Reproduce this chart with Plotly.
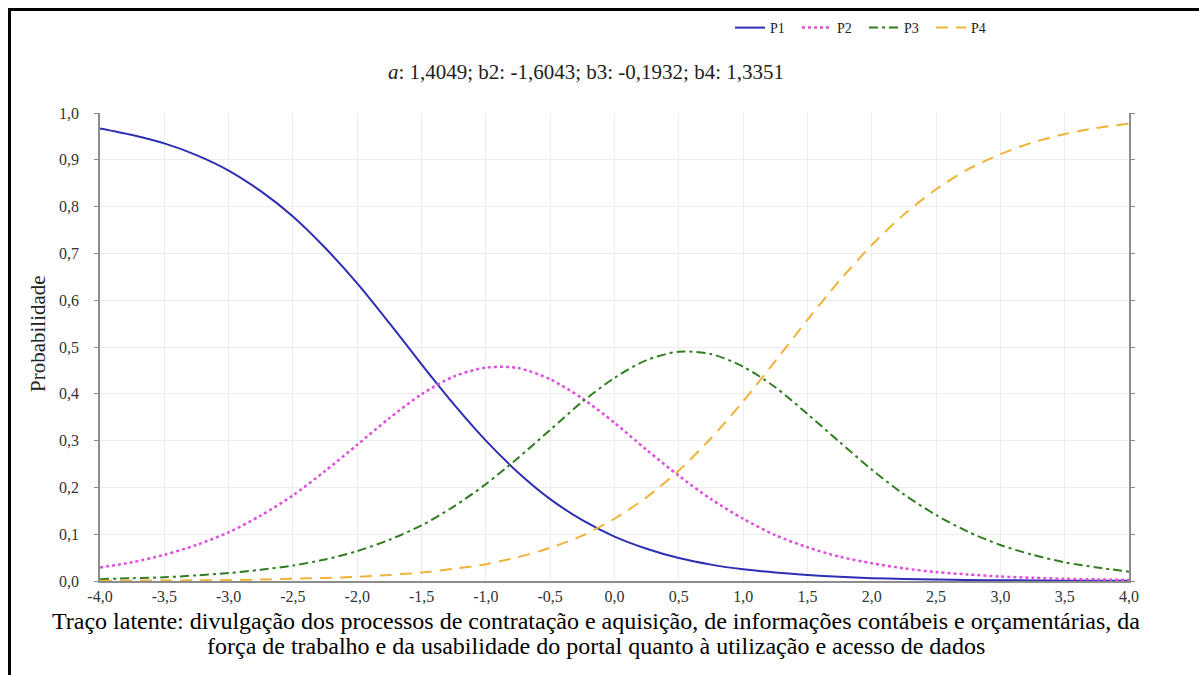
import plotly.graph_objects as go

# Traço latente (theta) grid
theta = [-4.0, -3.75, -3.5, -3.25, -3.0, -2.75, -2.5, -2.25, -2.0, -1.75, -1.5, -1.25,
         -1.0, -0.75, -0.5, -0.25, 0.0, 0.25, 0.5, 0.75, 1.0, 1.25, 1.5, 1.75,
         2.0, 2.25, 2.5, 2.75, 3.0, 3.25, 3.5, 3.75, 4.0]

# Category response probabilities
p1 = [0.967, 0.953, 0.935, 0.910, 0.877, 0.833, 0.779, 0.712, 0.636, 0.551, 0.463, 0.378,
      0.300, 0.232, 0.175, 0.130, 0.095, 0.069, 0.049, 0.035, 0.025, 0.018, 0.013, 0.009,
      0.006, 0.0045, 0.003, 0.002, 0.0016, 0.0011, 0.0008, 0.0005, 0.0004]
p2 = [0.029, 0.040, 0.056, 0.077, 0.104, 0.140, 0.183, 0.235, 0.291, 0.348, 0.399, 0.437,
      0.456, 0.455, 0.431, 0.390, 0.338, 0.280, 0.225, 0.175, 0.133, 0.098, 0.072, 0.052,
      0.038, 0.027, 0.019, 0.014, 0.0095, 0.0068, 0.0047, 0.0034, 0.0024]
p3 = [0.004, 0.006, 0.008, 0.012, 0.017, 0.024, 0.033, 0.046, 0.064, 0.088, 0.119, 0.159,
      0.207, 0.263, 0.323, 0.383, 0.434, 0.472, 0.490, 0.485, 0.458, 0.414, 0.357, 0.297,
      0.238, 0.185, 0.141, 0.105, 0.077, 0.056, 0.040, 0.029, 0.020]
p4 = [0.0006, 0.0008, 0.001, 0.0016, 0.002, 0.0032, 0.005, 0.0065, 0.009, 0.013, 0.018, 0.026,
      0.036, 0.051, 0.071, 0.097, 0.133, 0.179, 0.236, 0.305, 0.384, 0.470, 0.558, 0.642,
      0.718, 0.783, 0.837, 0.880, 0.912, 0.937, 0.955, 0.968, 0.977]

x_tickvals = [-4.0, -3.5, -3.0, -2.5, -2.0, -1.5, -1.0, -0.5, 0.0, 0.5, 1.0, 1.5, 2.0, 2.5, 3.0, 3.5, 4.0]
x_ticktext = ["-4,0", "-3,5", "-3,0", "-2,5", "-2,0", "-1,5", "-1,0", "-0,5", "0,0",
              "0,5", "1,0", "1,5", "2,0", "2,5", "3,0", "3,5", "4,0"]
y_tickvals = [0.0, 0.1, 0.2, 0.3, 0.4, 0.5, 0.6, 0.7, 0.8, 0.9, 1.0]
y_ticktext = ["0,0", "0,1", "0,2", "0,3", "0,4", "0,5", "0,6", "0,7", "0,8", "0,9", "1,0"]

x_title_lines = [
    "Traço latente: divulgação dos processos de contratação e aquisição, de informações contábeis e orçamentárias, da",
    "força de trabalho e da usabilidade do portal quanto à utilização e acesso de dados",
]

serif = "Liberation Serif"

fig = go.Figure()
styles = [
    ("P1", p1, "#2e2eb4", "solid", 2),
    ("P2", p2, "#de4fde", "3px,3px", 2.5),
    ("P3", p3, "#2f7d1f", "9px,4px,3px,4px", 2),
    ("P4", p4, "#efb33a", "12px,8px", 2),
]
for name, vals, color, dash, w in styles:
    fig.add_trace(go.Scatter(
        x=theta, y=vals, name=name, mode="lines",
        line=dict(color=color, dash=dash, width=w, shape="spline", smoothing=0.8),
    ))

# Page geometry helpers (pixel -> paper coordinates)
L, R, T, B = 100, 70, 113, 94
W, H = 1199, 675
pw, ph = W - L - R, H - T - B
def px(xp):
    return (xp - L) / pw
def py(yp):
    return (H - B - yp) / ph

# Outer frame (left and top edges)
fig.add_shape(type="path", xref="paper", yref="paper",
              path=f"M {px(9.5)},{py(676)} L {px(9.5)},{py(9.5)} L {px(1200)},{py(9.5)}",
              line=dict(color="black", width=3))

# Two-line x-axis caption
for line_text, ypix in zip(x_title_lines, [621, 646]):
    fig.add_annotation(
        xref="paper", yref="paper", x=px(596), y=py(ypix), xanchor="center", yanchor="middle",
        text=line_text, showarrow=False,
        font=dict(family=serif, size=24, color="black"),
    )

# Y-axis caption
fig.add_annotation(
    xref="paper", yref="paper", x=px(38), y=py(334), xanchor="center", yanchor="middle",
    text="Probabilidade", textangle=-90, showarrow=False,
    font=dict(family=serif, size=21, color="#222"),
)

fig.update_layout(
    width=W, height=H,
    margin=dict(l=L, r=R, t=T, b=B),
    paper_bgcolor="white", plot_bgcolor="white",
    font=dict(family=serif),
    title=dict(
        text="<i>a</i>: 1,4049; b2: -1,6043; b3: -0,1932; b4: 1,3351",
        xref="container", yref="container",
        x=586 / W, xanchor="center", y=1 - 72 / H, yanchor="middle",
        font=dict(family=serif, size=21, color="#222"),
    ),
    legend=dict(
        orientation="h", x=px(730), xanchor="left", y=py(28), yanchor="middle",
        font=dict(family=serif, size=14, color="#222"), bgcolor="rgba(0,0,0,0)",
        entrywidth=22,
    ),
    xaxis=dict(
        range=[-4, 4], tickvals=x_tickvals, ticktext=x_ticktext,
        showgrid=True, gridcolor="#ececec", gridwidth=1,
        showline=True, linecolor="#8c8c8c", linewidth=1.5,
        ticks="", zeroline=False,
        tickfont=dict(family=serif, size=16, color="#333"),
    ),
    yaxis=dict(
        range=[0, 1.0], tickvals=y_tickvals, ticktext=y_ticktext,
        showgrid=True, gridcolor="#ececec", gridwidth=1,
        showline=True, linecolor="#8c8c8c", linewidth=1.5, mirror="ticks",
        ticks="outside", ticklen=4, tickcolor="#8c8c8c", ticklabelstandoff=12,
        zeroline=False,
        tickfont=dict(family=serif, size=16, color="#333"),
    ),
)

fig.write_html("out.html")
